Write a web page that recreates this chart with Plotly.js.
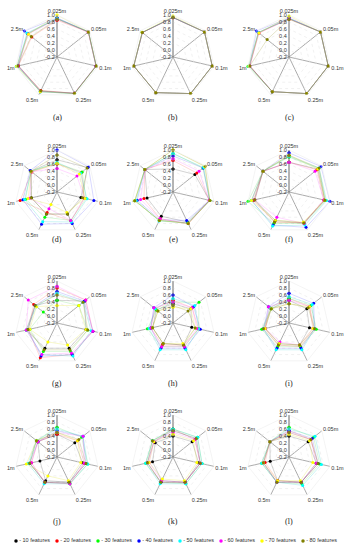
<!DOCTYPE html>
<html><head><meta charset="utf-8">
<script src="https://cdn.plot.ly/plotly-3.0.1.min.js"></script>
<style>html,body{margin:0;padding:0;background:#fff}#chart{width:352px;height:550px}</style>
</head><body><div id="chart"></div>
<script>
const axesLabels = ["0.025m","0.05m","0.1m","0.25m","0.5m","1m","2.5m"];
const seriesNames = ["10 features","20 features","30 features","40 features","50 features","60 features","70 features","80 features"];
const seriesColors = ["#000000","#ff0000","#00ff00","#0000ff","#00ffff","#ff00ff","#ffff00","#808000"];
const lineColors = ["rgba(0,0,0,0.25)","rgba(255,0,0,0.22)","rgba(0,200,0,0.22)","rgba(0,0,255,0.22)","rgba(0,200,200,0.3)","rgba(255,0,255,0.22)","rgba(220,220,0,0.3)","rgba(128,128,0,0.3)"];
const panelLabels = ["(a)","(b)","(c)","(d)","(e)","(f)","(g)","(h)","(i)","(j)","(k)","(l)"];
const radialTicks = [-0.2,0.0,0.2,0.4,0.6,0.8,1.0];

const chartA = [
 [0.90,0.95,0.94,0.95,0.88,0.93,0.88],
 [0.85,0.94,0.95,0.95,0.86,0.93,0.72],
 [0.90,0.95,0.95,0.96,0.90,0.99,0.86],
 [0.92,0.95,0.95,0.95,0.90,0.95,0.99],
 [0.90,0.95,0.95,0.96,0.90,0.95,0.90],
 [0.88,0.94,0.94,0.95,0.88,0.94,0.85],
 [1.00,0.95,0.95,0.96,0.90,0.98,0.84],
 [0.88,0.95,0.95,0.95,0.87,0.95,0.74]];
const chartB = [
 [0.93,0.95,0.95,0.96,0.93,0.95,0.92],
 [0.92,0.95,0.95,0.96,0.93,0.95,0.92],
 [0.93,0.95,0.95,0.96,0.93,0.95,0.93],
 [0.93,0.95,0.95,0.96,0.93,0.95,0.92],
 [0.93,0.95,0.95,0.96,0.93,0.95,0.92],
 [0.93,0.95,0.95,0.96,0.93,0.95,0.92],
 [0.97,0.95,0.95,0.96,0.93,0.95,0.93],
 [0.93,0.95,0.95,0.96,0.93,0.95,0.92]];
const chartC = [
 [0.90,0.95,0.95,0.96,0.90,0.95,0.92],
 [0.88,0.95,0.95,0.96,0.90,0.95,0.90],
 [0.90,0.95,0.95,0.96,0.90,1.00,0.92],
 [0.92,0.95,0.95,0.96,0.90,0.96,0.99],
 [0.90,0.95,0.95,0.96,0.90,0.97,0.92],
 [0.90,0.95,0.95,0.96,0.90,0.95,0.90],
 [0.97,0.95,0.95,0.96,0.90,0.97,0.90],
 [0.88,0.95,0.95,0.96,0.90,0.95,0.60]];
const chartD = [
 [0.72,0.92,0.50,0.50,0.50,0.55,0.75],
 [0.60,0.70,0.60,0.72,0.45,0.88,0.72],
 [0.62,0.72,0.65,0.70,0.60,0.72,0.76],
 [1.00,0.95,0.88,0.80,0.82,0.80,0.78],
 [0.65,0.66,0.68,0.75,0.74,0.75,0.74],
 [0.47,0.53,0.60,0.70,0.33,0.60,0.73],
 [0.62,0.62,0.62,0.45,0.20,0.65,0.74],
 [0.86,0.90,0.55,0.50,0.50,0.55,0.75]];
const chartE = [
 [0.46,0.60,0.87,0.75,0.57,0.56,0.83],
 [0.70,0.67,0.87,0.80,0.65,0.65,0.83],
 [0.90,0.90,0.88,0.78,0.70,0.92,0.83],
 [0.83,0.90,0.87,0.70,0.68,0.85,0.83],
 [0.90,0.92,0.88,0.78,0.72,0.88,0.83],
 [0.75,0.75,0.86,0.80,0.65,0.75,0.82],
 [1.00,0.96,0.88,0.80,0.70,0.92,0.83],
 [1.00,0.98,0.88,0.80,0.70,0.92,0.83]];
const chartF = [
 [0.65,0.85,0.85,0.78,0.70,0.82,0.75],
 [0.65,0.82,0.82,0.78,0.75,0.85,0.75],
 [0.80,0.88,0.88,0.80,0.80,1.00,0.75],
 [0.92,0.97,1.00,0.92,0.85,0.90,0.75],
 [0.82,0.90,0.90,0.85,0.88,0.90,0.75],
 [0.65,0.75,0.82,0.80,0.60,0.80,0.75],
 [0.85,0.85,0.85,0.75,0.70,0.90,0.75],
 [0.85,0.90,0.85,0.78,0.75,0.80,0.75]];
const chartG = [
 [0.45,0.80,0.65,0.60,0.60,0.70,0.60],
 [0.80,0.85,0.85,0.80,0.90,0.65,0.65],
 [0.45,0.60,0.70,0.70,0.70,0.60,0.30],
 [0.70,0.80,0.85,0.80,0.85,0.65,0.60],
 [0.65,0.75,0.80,0.85,0.80,0.70,0.55],
 [0.85,0.85,0.85,0.75,0.80,0.70,0.85],
 [0.30,0.60,0.65,0.50,0.40,0.60,0.55],
 [0.60,0.75,0.70,0.65,0.65,0.65,0.60]];
const chartH = [
 [0.35,0.45,0.35,0.50,0.45,0.40,0.40],
 [0.45,0.50,0.55,0.50,0.50,0.45,0.45],
 [0.40,0.75,0.55,0.55,0.55,0.55,0.40],
 [0.60,0.55,0.60,0.60,0.60,0.45,0.50],
 [0.50,0.60,0.55,0.65,0.65,0.50,0.45],
 [0.40,0.50,0.50,0.55,0.55,0.45,0.50],
 [0.25,0.45,0.45,0.45,0.45,0.40,0.35],
 [0.30,0.35,0.45,0.50,0.45,0.40,0.35]];
const chartI = [
 [0.45,0.45,0.40,0.50,0.45,0.50,0.45],
 [0.50,0.55,0.55,0.55,0.50,0.50,0.50],
 [0.50,0.60,0.60,0.55,0.55,0.60,0.45],
 [0.65,0.70,0.55,0.60,0.60,0.55,0.55],
 [0.55,0.65,0.55,0.65,0.65,0.55,0.50],
 [0.45,0.55,0.50,0.50,0.40,0.50,0.55],
 [0.35,0.55,0.50,0.50,0.45,0.50,0.45],
 [0.35,0.50,0.55,0.50,0.50,0.55,0.45]];
const chartJ = [
 [0.45,0.45,0.55,0.60,0.55,0.30,0.50],
 [0.45,0.55,0.60,0.65,0.60,0.55,0.50],
 [0.65,0.70,0.70,0.65,0.60,0.60,0.55],
 [0.55,0.75,0.65,0.60,0.60,0.60,0.50],
 [0.60,0.75,0.70,0.65,0.65,0.65,0.55],
 [0.50,0.75,0.60,0.65,0.60,0.55,0.50],
 [0.50,0.55,0.50,0.55,0.40,0.70,0.55],
 [0.50,0.60,0.65,0.60,0.60,0.60,0.55]];
const chartK = [
 [0.40,0.50,0.55,0.60,0.55,0.40,0.45],
 [0.60,0.60,0.60,0.60,0.60,0.55,0.50],
 [0.60,0.70,0.65,0.65,0.60,0.60,0.55],
 [0.55,0.65,0.60,0.60,0.60,0.55,0.50],
 [0.60,0.70,0.65,0.65,0.65,0.60,0.55],
 [0.50,0.60,0.60,0.60,0.55,0.50,0.50],
 [0.45,0.55,0.50,0.55,0.50,0.50,0.50],
 [0.55,0.65,0.60,0.60,0.60,0.55,0.55]];
const chartL = [
 [0.40,0.50,0.60,0.60,0.55,0.35,0.50],
 [0.55,0.60,0.65,0.60,0.55,0.50,0.50],
 [0.65,0.70,0.70,0.65,0.60,0.60,0.50],
 [0.55,0.65,0.65,0.60,0.60,0.55,0.50],
 [0.60,0.75,0.75,0.70,0.60,0.60,0.50],
 [0.50,0.60,0.60,0.60,0.60,0.55,0.50],
 [0.45,0.55,0.50,0.55,0.55,0.55,0.50],
 [0.50,0.60,0.65,0.60,0.60,0.55,0.50]];

const charts = [chartA,chartB,chartC,chartD,chartE,chartF,chartG,chartH,chartI,chartJ,chartK,chartL];

const W = 352, H = 550, R = 42;
const colCenters = [57, 173, 289];
const rowCenters = [57, 192, 323, 457];
const labelY = [117, 240, 383, 521];

const traces = [];
const layout = {
  width: W, height: H,
  margin: {l:0, r:0, t:0, b:0},
  paper_bgcolor: "#fff",
  showlegend: false,
  font: {family: "Liberation Sans, Arial, sans-serif", size: 6, color: "#333"},
  annotations: []
};

charts.forEach((chart, ci) => {
  const row = Math.floor(ci/3), col = ci%3;
  const cx = colCenters[col], cy = rowCenters[row];
  const key = ci === 0 ? "polar" : "polar" + (ci+1);
  layout[key] = {
    domain: {x: [(cx-R)/W, (cx+R)/W], y: [1-(cy+R)/H, 1-(cy-R)/H]},
    gridshape: "linear",
    bgcolor: "rgba(0,0,0,0)",
    radialaxis: {
      range: [-0.2, 1.0], tickvals: radialTicks, ticktext: radialTicks.map(v=>v.toFixed(1)),
      angle: 90, tickangle: 90, side: "counterclockwise",
      showline: true, linecolor: "#777", linewidth: 0.7,
      gridcolor: "#e8e8e8", griddash: "dot", gridwidth: 0.6,
      ticks: "", tickfont: {size: 5.5, color: "#333"}
    },
    angularaxis: {
      direction: "clockwise", rotation: 90, type: "category",
      categoryarray: axesLabels,
      gridcolor: "#888", gridwidth: 0.7,
      showline: true, linecolor: "#ececec", linewidth: 0.6,
      ticks: "", tickfont: {size: 5.5, color: "#333"}
    }
  };
  chart.forEach((vals, si) => {
    traces.push({
      type: "scatterpolar", subplot: key,
      r: vals.concat([vals[0]]),
      theta: axesLabels.concat([axesLabels[0]]),
      mode: "lines+markers",
      name: seriesNames[si], showlegend: false,
      line: {color: lineColors[si], width: 0.7},
      marker: {color: seriesColors[si], size: 3},
      hoverinfo: "skip"
    });
  });
  layout.annotations.push({
    text: panelLabels[ci], xref: "paper", yref: "paper",
    x: cx/W, y: 1 - labelY[row]/H, showarrow: false,
    font: {family: "Liberation Serif, Times New Roman, serif", size: 8, color: "#222"},
    xanchor: "center", yanchor: "middle"
  });
});

// legend row drawn as a scatter on a hidden cartesian axis
traces.push({
  type: "scatter", xaxis: "x", yaxis: "y",
  x: seriesNames.map((_, i) => i), y: seriesNames.map(() => 0),
  mode: "markers+text",
  text: seriesNames.map(n => "- " + n),
  textposition: "middle right",
  textfont: {size: 5.5, color: "#333", family: "Liberation Sans, Arial, sans-serif"},
  marker: {color: seriesColors, size: 3.5},
  hoverinfo: "skip", cliponaxis: false
});
layout.xaxis = {domain: [16/W, 303/W], range: [0, 7], visible: false, fixedrange: true};
layout.yaxis = {domain: [1-548/H, 1-534/H], range: [-1, 1], visible: false, fixedrange: true};

Plotly.newPlot("chart", traces, layout, {staticPlot: true, displayModeBar: false});
</script></body></html>
